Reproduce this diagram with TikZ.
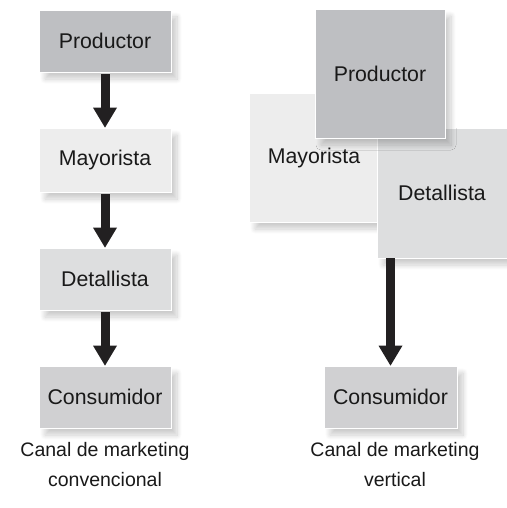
\documentclass[tikz,border=0pt]{standalone}
\usepackage{fontspec}
\setmainfont{Liberation Sans}
\usetikzlibrary{positioning, arrows.meta, shadows.blur}

\definecolor{prodgray}{RGB}{190,191,194}
\definecolor{mayogray}{RGB}{237,237,237}
\definecolor{detagray}{RGB}{221,222,223}
\definecolor{consgray}{RGB}{208,208,210}
\definecolor{arrowdark}{RGB}{34,32,33}

\tikzset{
  canal/.style={rectangle, draw=white, line width=0.8pt, inner sep=0pt,
    font=\fontsize{21.3}{24}\selectfont, text=black!90,
    blur shadow={shadow xshift=6pt, shadow yshift=-7pt, shadow blur radius=5pt,
      shadow blur steps=10, shadow opacity=20}},
  flecha/.style={arrowdark, line width=9pt,
    -{Triangle[width=24pt, length=20pt, line width=0pt]}},
  caption/.style={align=center, font=\fontsize{19.5}{30}\selectfont, text=black!90}
}

\begin{document}
\begin{tikzpicture}[x=1pt, y=-1pt]
    \useasboundingbox (0,0) rectangle (506,508);
    % conventional channel
    \node[canal, fill=prodgray, minimum width=132pt, minimum height=62pt] (p1) at (105,41) {Productor};
    \node[canal, fill=mayogray, minimum width=132pt, minimum height=64pt] (m1) at (105,160) {Mayorista};
    \node[canal, fill=detagray, minimum width=132pt, minimum height=62pt] (d1) at (105,279) {Detallista};
    \node[canal, fill=consgray, minimum width=132pt, minimum height=62pt] (c1) at (105,397) {Consumidor};
    \draw[flecha, shorten <=2pt] (p1) -- (m1);
    \draw[flecha, shorten <=2pt] (m1) -- (d1);
    \draw[flecha, shorten <=2pt] (d1) -- (c1);
    % vertical channel
    \node[canal, fill=mayogray, minimum width=130pt, minimum height=129pt] (m2) at (314,157.5) {Mayorista};
    \node[canal, fill=detagray, minimum width=130pt, minimum height=130pt] (d2) at (442,193) {Detallista};
    \node[canal, fill=prodgray, minimum width=130pt, minimum height=129pt] (p2) at (380,73.5) {Productor};
    \node[canal, fill=consgray, minimum width=133pt, minimum height=62pt] (c2) at (390.5,397) {Consumidor};
    \draw[flecha] (c2.north |- d2.south) -- (c2.north);
    % captions
    \node[caption] (t1) at (105,465) {Canal de marketing\\convencional};
    \node[caption] (t2) at (395,465) {Canal de marketing\\vertical};
\end{tikzpicture}
\end{document}
